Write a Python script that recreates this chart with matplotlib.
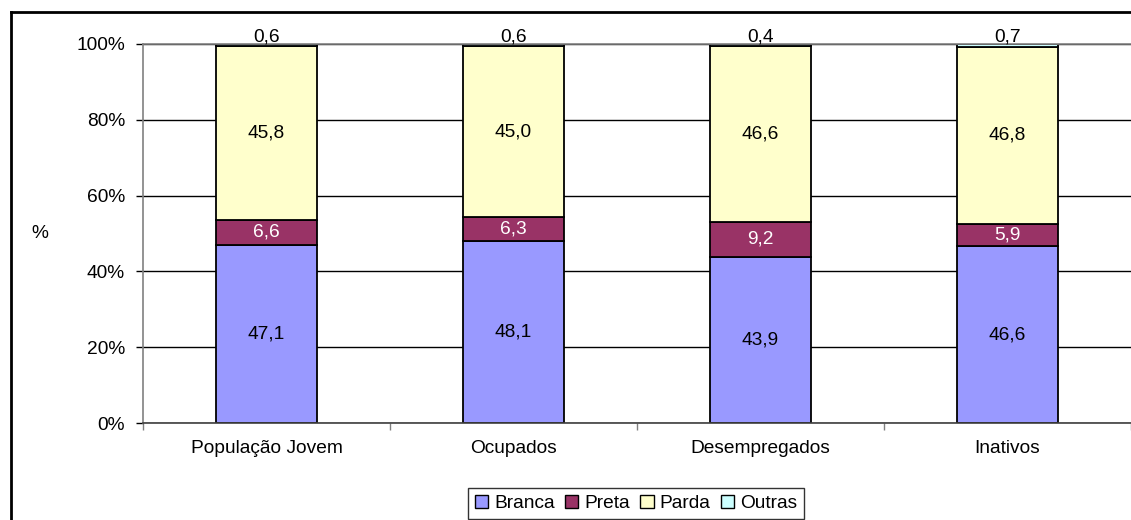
import matplotlib
matplotlib.use("Agg")
import matplotlib.pyplot as plt
from matplotlib.patches import Patch
from matplotlib.lines import Line2D
import numpy as np

plt.rcParams['font.family'] = ['Liberation Sans', 'DejaVu Sans']

categories = ["População Jovem", "Ocupados", "Desempregados", "Inativos"]
series_names = ["Branca", "Preta", "Parda", "Outras"]
branca = [47.1, 48.1, 43.9, 46.6]
preta = [6.6, 6.3, 9.2, 5.9]
parda = [45.8, 45.0, 46.6, 46.8]
outras = [0.6, 0.6, 0.4, 0.7]
y_ticks = [0, 20, 40, 60, 80, 100]
y_ticklabels = ["0%", "20%", "40%", "60%", "80%", "100%"]

colors = ["#9999FF", "#993366", "#FFFFCC", "#CCFFFF"]
label_colors = ["black", "white", "black", "black"]

W, H = 1131, 520
fig = plt.figure(figsize=(W / 100, H / 100), dpi=100)
ax = fig.add_axes([143 / W, 1 - 423 / H, 1 - 143 / W, (423 - 44) / H])

data = [branca, preta, parda, outras]
x = np.arange(len(categories))
fs = 13.8
bottom = np.zeros(len(categories))
total = np.array([sum(d[j] for d in data) for j in range(len(categories))])
for i, (vals, name) in enumerate(zip(data, series_names)):
    vals = np.array(vals)
    pct = vals / total * 100
    ax.bar(x, pct, bottom=bottom, width=0.405, color=colors[i], edgecolor="black",
           linewidth=1.3, zorder=3, label=name)
    for j in range(len(categories)):
        txt = f"{vals[j]:.1f}".replace(".", ",")
        if i == 3:
            ax.annotate(txt, (x[j], 100), xytext=(0, -1), textcoords="offset points",
                        ha="center", va="bottom", fontsize=fs, color="black", zorder=5)
        else:
            ax.text(x[j], bottom[j] + pct[j] / 2, txt, ha="center", va="center",
                    fontsize=fs, color=label_colors[i], zorder=5)
    bottom += pct

ax.set_xlim(-0.5, len(categories) - 0.5)
ax.set_ylim(0, 100)
ax.set_yticks(y_ticks)
ax.set_yticklabels(y_ticklabels, fontsize=fs)
ax.tick_params(axis="y", direction="out", length=5, width=1, pad=8, colors="black")
ax.set_xticks(np.arange(len(categories) + 1) - 0.5)
ax.set_xticklabels([])
ax.set_xticks(x, minor=True)
ax.set_xticklabels(categories, minor=True, fontsize=fs)
ax.tick_params(axis="x", which="major", direction="out", length=5, width=1, color="#808080")
ax.tick_params(axis="x", which="minor", length=0, pad=12)

ax.yaxis.grid(True, color="black", linewidth=1.0, zorder=0)
ax.set_axisbelow(True)
ax.spines["right"].set_visible(False)
ax.spines["left"].set_color("#808080")
ax.spines["top"].set_color("#808080")
ax.spines["bottom"].set_color("#404040")
for s in ax.spines.values():
    s.set_linewidth(1.2)
    s.set_zorder(4)

fig.text(40 / W, 1 - 233 / H, "%", fontsize=fs, ha="center", va="center")

# figure border (chart area)
fig.add_artist(Line2D([10.5 / W, 10.5 / W], [0, 1 - 11.5 / H], transform=fig.transFigure,
                      color="black", linewidth=2))
fig.add_artist(Line2D([10.5 / W, 1], [1 - 11.5 / H, 1 - 11.5 / H], transform=fig.transFigure,
                      color="black", linewidth=2))

handles = [Patch(facecolor=c, edgecolor="black", linewidth=1) for c in colors]
leg = fig.legend(handles, series_names, loc="upper left",
                 bbox_to_anchor=(468 / W, 1 - 488 / H), ncol=4, fontsize=fs,
                 frameon=True, fancybox=False, handlelength=0.7, handleheight=0.7,
                 handletextpad=0.3, columnspacing=0.55, borderpad=0.35, borderaxespad=0)
leg.get_frame().set_edgecolor("black")
leg.get_frame().set_linewidth(1)

fig.savefig("out.png", dpi=100)
